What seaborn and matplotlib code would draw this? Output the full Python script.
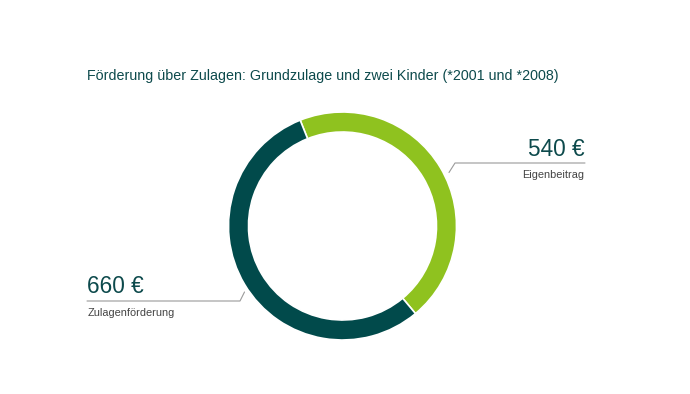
"""Donut: Förderung über Zulagen."""

import matplotlib.pyplot as plt
import seaborn as sns

labels = ["Eigenbeitrag", "Zulagenförderung"]
values = [540, 660]
value_labels = ["540 €", "660 €"]
title = "Förderung über Zulagen: Grundzulage und zwei Kinder (*2001 und *2008)"

colors = ["#8fc21f", "#014a4b"]
text_color = "#0d4a4c"
line_color = "#9a9a9a"

sns.set_theme(style="white")
plt.rcParams["font.family"] = ["Liberation Sans", "DejaVu Sans"]

W, H = 690, 394
fig = plt.figure(figsize=(W / 100, H / 100), dpi=100)
ax = fig.add_axes([0, 0, 1, 1])
ax.set_xlim(0, W)
ax.set_ylim(0, H)
ax.set_aspect("equal")
ax.axis("off")


def y(py):
    return H - py


cx, cy, r = 342.5, y(226), 114
ax.pie(
    values,
    colors=colors,
    startangle=111.8,
    counterclock=False,
    center=(cx, cy),
    radius=r,
    wedgeprops=dict(width=20, edgecolor="white", linewidth=1.2),
    frame=True,
)
ax.set_xlim(0, W)
ax.set_ylim(0, H)
ax.axis("off")

ax.text(87, y(76), title, fontsize=10.3, color=text_color, va="center", ha="left")

# rechtes Label
ax.plot([449, 455, 585], [y(172.5), y(163), y(163)], color=line_color, lw=0.8)
ax.text(585, y(156), value_labels[0], fontsize=16.3, color=text_color, ha="right", va="baseline")
ax.text(584, y(178), labels[0], fontsize=7.9, color="#444444", ha="right", va="baseline")

# linkes Label
ax.plot([87, 240, 244.5], [y(301), y(301), y(292)], color=line_color, lw=0.8)
ax.text(87, y(293), value_labels[1], fontsize=16.3, color=text_color, ha="left", va="baseline")
ax.text(88, y(316), labels[1], fontsize=7.9, color="#444444", ha="left", va="baseline")

fig.savefig("out.png", dpi=100, facecolor="white")
